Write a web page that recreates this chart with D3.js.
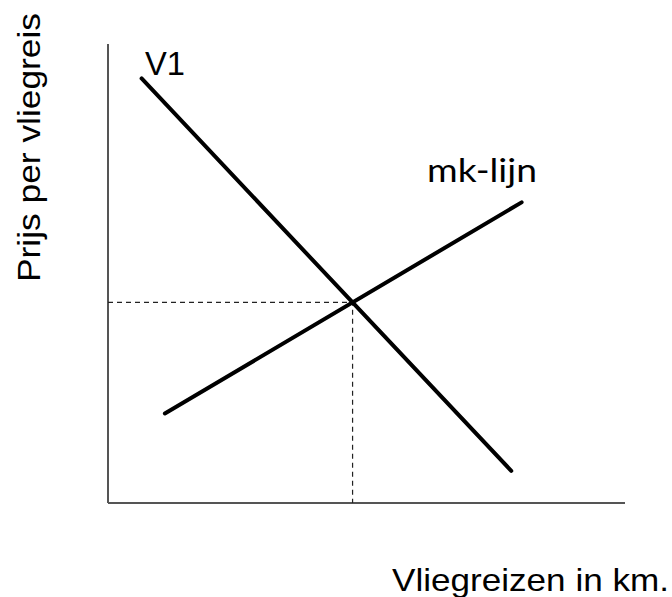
<!DOCTYPE html>
<html>
<head>
<meta charset="utf-8">
<script src="https://cdn.jsdelivr.net/npm/d3@7"></script>
<style>
  html, body { margin: 0; padding: 0; background: #fff; }
  svg { display: block; }
</style>
</head>
<body>
<div id="chart"></div>
<script>
// curves in abstract units (quantity, price), 0..100 on both axes
var demandV1 = [{ q: 6.5, p: 92.5 }, { q: 78, p: 7 }];
var mkLijn = [{ q: 11, p: 19.5 }, { q: 80, p: 65.5 }];
var axisDomain = [0, 100];

var width = 672, height = 597;

var svg = d3.select("#chart").append("svg")
    .attr("width", width)
    .attr("height", height);

var x = d3.scaleLinear().domain(axisDomain).range([108, 625]);
var y = d3.scaleLinear().domain(axisDomain).range([503, 44]);

var line = d3.line()
    .x(function (d) { return x(d.q); })
    .y(function (d) { return y(d.p); });

// intersection of the two straight lines
function intersect(a, b) {
    var m1 = (a[1].p - a[0].p) / (a[1].q - a[0].q);
    var m2 = (b[1].p - b[0].p) / (b[1].q - b[0].q);
    var q = (b[0].p - a[0].p + m1 * a[0].q - m2 * b[0].q) / (m1 - m2);
    return { q: q, p: a[0].p + m1 * (q - a[0].q) };
}
var eq = intersect(demandV1, mkLijn);

// axes
svg.append("line")
    .attr("x1", x(0)).attr("y1", y(0))
    .attr("x2", x(0)).attr("y2", y(100))
    .attr("stroke", "#555").attr("stroke-width", 2);
svg.append("line")
    .attr("x1", x(0)).attr("y1", y(0))
    .attr("x2", x(100)).attr("y2", y(0))
    .attr("stroke", "#555").attr("stroke-width", 2);

// dashed guides to the equilibrium
svg.append("path")
    .attr("d", line([{ q: 0, p: eq.p }, eq, { q: eq.q, p: 0 }]))
    .attr("fill", "none")
    .attr("stroke", "#222")
    .attr("stroke-width", 1.2)
    .attr("stroke-dasharray", "5,4");

// curves
[demandV1, mkLijn].forEach(function (d) {
    svg.append("path")
        .attr("d", line(d))
        .attr("fill", "none")
        .attr("stroke", "#000")
        .attr("stroke-width", 4)
        .attr("stroke-linecap", "round");
});

// labels
svg.append("text")
    .attr("x", 145).attr("y", 75)
    .attr("font-family", "Liberation Sans, Arial, sans-serif")
    .attr("font-size", 33)
    .attr("textLength", 40)
    .attr("lengthAdjust", "spacingAndGlyphs")
    .text("V1");

svg.append("text")
    .attr("x", 427).attr("y", 182)
    .attr("font-family", "Lato, sans-serif")
    .attr("font-size", 33)
    .attr("textLength", 110)
    .attr("lengthAdjust", "spacingAndGlyphs")
    .text("mk-lijn");

svg.append("text")
    .attr("transform", "translate(40,282) rotate(-90)")
    .attr("font-family", "Liberation Sans, Arial, sans-serif")
    .attr("font-size", 32)
    .attr("textLength", 269)
    .attr("lengthAdjust", "spacingAndGlyphs")
    .text("Prijs per vliegreis");

svg.append("text")
    .attr("x", 392).attr("y", 591)
    .attr("font-family", "Liberation Sans, Arial, sans-serif")
    .attr("font-size", 32)
    .attr("textLength", 277)
    .attr("lengthAdjust", "spacingAndGlyphs")
    .text("Vliegreizen in km.");
</script>
</body>
</html>
